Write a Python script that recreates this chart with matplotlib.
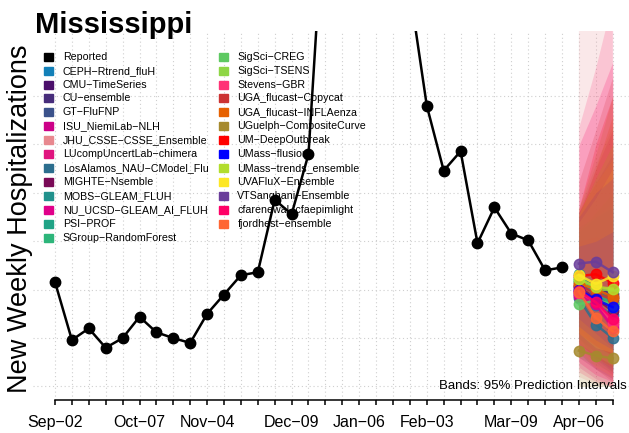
import matplotlib.pyplot as plt
import matplotlib.dates as mdates
import numpy as np
import pandas as pd
from matplotlib.patches import Rectangle

plt.rcParams['font.family'] = ['Liberation Sans', 'DejaVu Sans']

# weekly axis (Saturdays)
weeks = pd.date_range('2023-09-02', '2024-04-20', freq='7D')
labelled = ['2023-09-02', '2023-10-07', '2023-11-04', '2023-12-09',
            '2024-01-06', '2024-02-03', '2024-03-09', '2024-04-06']

# reported weekly hospitalizations, Sep-02 .. Mar-30
report_dates = pd.date_range('2023-09-02', '2024-03-30', freq='7D')
reported = [108, 48, 60, 40, 50, 72, 56, 50, 45, 75, 95, 115, 118, 193, 178,
            240, 519, 700, 820, 760, 600, 409, 290, 223, 243, 148, 185, 158,
            151, 120, 123]

fc_dates = pd.to_datetime(['2024-04-06', '2024-04-13', '2024-04-20'])

models = ['CEPH-Rtrend_fluH', 'CMU-TimeSeries', 'CU-ensemble', 'GT-FluFNP',
          'ISU_NiemiLab-NLH', 'JHU_CSSE-CSSE_Ensemble', 'LUcompUncertLab-chimera',
          'LosAlamos_NAU-CModel_Flu', 'MIGHTE-Nsemble', 'MOBS-GLEAM_FLUH',
          'NU_UCSD-GLEAM_AI_FLUH', 'PSI-PROF', 'SGroup-RandomForest',
          'SigSci-CREG', 'SigSci-TSENS', 'Stevens-GBR', 'UGA_flucast-Copycat',
          'UGA_flucast-INFLAenza', 'UGuelph-CompositeCurve', 'UM-DeepOutbreak',
          'UMass-flusion', 'UMass-trends_ensemble', 'UVAFluX-Ensemble',
          'VTSanghani-Ensemble', 'cfarenewal-cfaepimlight', 'fjordhest-ensemble']

colors = ['#1380B8', '#4B0F6B', '#472D7B', '#3B528B', '#CC0088', '#E8888F',
          '#E0157F', '#2C6E8E', '#7A0A57', '#21918C', '#E0008A', '#20A386',
          '#2DB57A', '#5EC962', '#8ED645', '#FF3377', '#CC3333', '#E66101',
          '#A68A2E', '#FF0000', '#0000FF', '#B2DD2D', '#FDE725', '#6A3D9A',
          '#FF0066', '#FF6633']

median = [[96, 84, 74], [104, 98, 92], [108, 102, 96], [100, 94, 86],
          [98, 88, 68], [102, 92, 80], [95, 86, 64], [91, 64, 50],
          [103, 91, 78], [116, 100, 88], [93, 85, 60], [110, 96, 82],
          [112, 99, 84], [85, 89, 85], [108, 100, 100], [97, 88, 66],
          [105, 96, 90], [106, 101, 92], [37, 32, 29], [114, 116, 107],
          [100, 90, 82], [111, 103, 101], [115, 106, 114], [127, 129, 118],
          [99, 87, 70], [98, 71, 57]]

lower = [[40, 28, 18], [45, 30, 20], [50, 35, 25], [55, 40, 30],
         [40, 25, 12], [10, 2, 0], [20, 8, 0], [50, 28, 15],
         [30, 18, 8], [60, 42, 30], [45, 32, 15], [55, 38, 25],
         [50, 32, 20], [30, 22, 15], [40, 28, 20], [15, 5, 0],
         [35, 18, 5], [45, 30, 20], [0, 0, 0], [55, 42, 32],
         [62, 48, 38], [45, 32, 22], [55, 40, 35], [70, 55, 40],
         [25, 12, 5], [38, 20, 10]]

upper = [[175, 200, 220], [170, 195, 225], [180, 210, 240], [150, 165, 180],
         [170, 195, 215], [420, 450, 480], [180, 225, 265], [140, 125, 110],
         [180, 215, 250], [165, 175, 185], [150, 155, 150], [160, 175, 190],
         [180, 210, 235], [160, 180, 200], [184, 230, 270], [268, 330, 400],
         [212, 265, 320], [175, 225, 280], [184, 240, 300], [184, 250, 300],
         [145, 150, 160], [178, 215, 250], [170, 195, 225], [175, 200, 215],
         [249, 290, 335], [182, 210, 235]]

W, H = 629, 433
fig = plt.figure(figsize=(W / 100, H / 100), dpi=100)
ax = fig.add_axes([33 / W, (H - 400) / H, (W - 33) / W, 369 / H])

# grid
for d in weeks:
    ax.axvline(d, color='#cfcfcf', linestyle=(0, (1, 2.5)), linewidth=0.8, zorder=0)
for g in range(0, 301, 50):
    ax.axhline(g, color='#cfcfcf', linestyle=(0, (1, 2.5)), linewidth=0.8, zorder=0)

# prediction bands
for c, lo, up in zip(colors, lower, upper):
    ax.fill_between(fc_dates, lo, up, color=c, alpha=0.19, linewidth=0, zorder=1)

# reported
ax.plot(report_dates, reported, color='black', linewidth=1.8, marker='o',
        markersize=7.5, zorder=3)

# medians
for c, m in zip(colors, median):
    ax.plot(fc_dates, m, color=c, linewidth=1.8, marker='o', markersize=7.5,
            alpha=0.85, zorder=4)

x0 = weeks[0] - pd.Timedelta(days=7 * 22 / 16.9)
x1 = weeks[0] + pd.Timedelta(days=7 * (W - 55) / 16.9)
ax.set_xlim(x0, x1)
ax.set_ylim(-13.95, 367.25)

for s in ['top', 'right', 'left']:
    ax.spines[s].set_visible(False)
ax.spines['bottom'].set_bounds(mdates.date2num(weeks[0]), mdates.date2num(weeks[-1]))
ax.spines['bottom'].set_linewidth(1.1)
ax.set_yticks([])
ax.set_xticks(weeks)
ax.set_xticklabels([d.strftime('%b') + '\u2212' + d.strftime('%d')
                    if d.strftime('%Y-%m-%d') in labelled else '' for d in weeks],
                   fontsize=11.5)
ax.tick_params(axis='x', direction='out', length=3.6, width=1.1, pad=7)

fig.text(627 / W, 1 - 389 / H, 'Bands: 95% Prediction Intervals', ha='right',
         va='baseline', fontsize=9.5, zorder=10)

# title and y label
fig.text(35 / W, 1 - 33 / H, 'Mississippi', fontsize=21, fontweight='bold',
         ha='left', va='baseline')
fig.text(20 / W, 1 - 219 / H, 'New Weekly Hospitalizations', rotation=90,
         ha='center', va='center', fontsize=19.5)

# legend, two columns
names = ['Reported'] + models
fills = ['black'] + colors
for i, (n, c) in enumerate(zip(names, fills)):
    col, row = (0, i) if i < 14 else (1, i - 14)
    sx = 44 if col == 0 else 218.6
    tx = 62.7 if col == 0 else 237.3
    cy = 56.7 + 13.93 * row
    fig.patches.append(Rectangle((sx / W, 1 - (cy + 4) / H), 9 / W, 8 / H,
                                 color=c, transform=fig.transFigure, figure=fig))
    fig.text(tx / W, 1 - cy / H, n.replace('-', '\u2212'), fontsize=7.7,
             ha='left', va='center')

fig.savefig('out.png', dpi=100)
